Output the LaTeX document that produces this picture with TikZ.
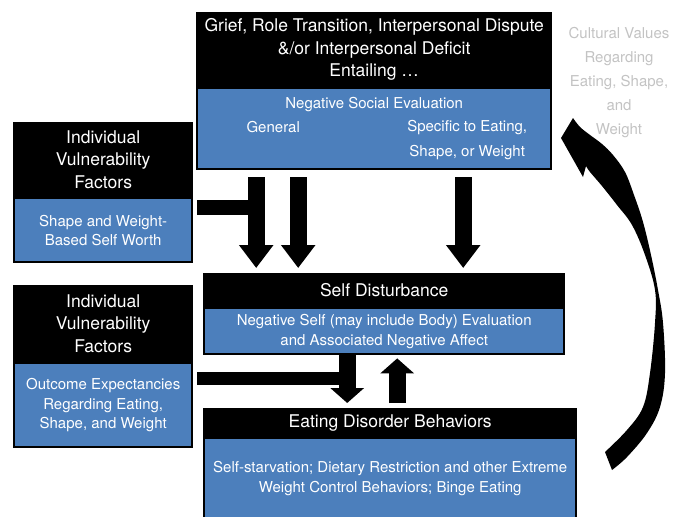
\documentclass[tikz,border=0pt]{standalone}
\usepackage{fontspec}
\setmainfont{TeX Gyre Heros}
\usetikzlibrary{positioning,arrows.meta}
\definecolor{boxblue}{RGB}{76,127,188}
\definecolor{culgray}{RGB}{195,195,195}
\tikzset{
  hdr/.style={fill=black, text=white, inner sep=0pt, align=center,
    font=\fontsize{17.5}{22.5}\selectfont},
  bodybox/.style={fill=boxblue, draw=black, line width=2pt, text=white,
    inner sep=0pt, align=center, font=\fontsize{15}{19.5}\selectfont},
  bodytext/.style={text=white, inner sep=0pt, align=center,
    font=\fontsize{15}{25}\selectfont},
  culture/.style={text=culgray, inner sep=0pt, align=center,
    font=\fontsize{15}{24}\selectfont},
  bigarrow/.style={line width=17pt, -{Triangle[width=33pt,length=23pt]}},
  shortarrow/.style={line width=17pt, -{Triangle[width=33pt,length=15pt]}},
  feedbar/.style={line width=15pt},
}
\begin{document}
\begin{tikzpicture}[x=1pt, y=-1pt]
            \useasboundingbox (0,0) rectangle (684,516);
            % top box
            \node[hdr, anchor=north west, minimum width=356pt, minimum height=75pt] (grief) at (196,12)
                {Grief, Role Transition, Interpersonal Dispute\\\&/or Interpersonal Deficit\\Entailing \dots};
            \node[bodybox, below=0pt of grief, minimum width=354pt, minimum height=81pt] (nse) {};
            \node[bodytext] (nsetitle) at ([yshift=-17pt]nse.north) {Negative Social Evaluation};
            \node[bodytext] (general) at ([xshift=-101pt, yshift=-40pt]nse.north) {General};
            \node[bodytext] (specific) at ([xshift=93pt, yshift=-52.5pt]nse.north) {Specific to Eating,\\Shape, or Weight};
            % left boxes
            \node[hdr, anchor=north west, minimum width=180pt, minimum height=75pt] (vul1) at (13,122)
                {Individual\\Vulnerability\\Factors};
            \node[bodybox, below=0pt of vul1, minimum width=178pt, minimum height=64pt] (sww)
                {Shape and Weight-\\Based Self Worth};
            \node[hdr, anchor=north west, minimum width=180pt, minimum height=77pt] (vul2) at (13,285)
                {Individual\\Vulnerability\\Factors};
            \node[bodybox, below=0pt of vul2, minimum width=178pt, minimum height=84pt] (oex)
                {Outcome Expectancies\\Regarding Eating,\\Shape, and Weight};
            % self disturbance
            \node[hdr, anchor=north west, minimum width=362pt, minimum height=34pt] (selfd) at (203,273)
                {Self Disturbance};
            \node[bodybox, below=0pt of selfd, minimum width=360pt, minimum height=46pt] (nsa)
                {Negative Self (may include Body) Evaluation\\and Associated Negative Affect};
            % eating disorder behaviors
            \node[hdr, anchor=north west, minimum width=374pt, minimum height=29pt] (edb) at (203,408)
                {Eating Disorder Behaviors};
            \node[bodybox, below=0pt of edb, minimum width=372pt, minimum height=80pt] (edbody)
                {Self-starvation; Dietary Restriction and other Extreme\\Weight Control Behaviors; Binge Eating};
            % cultural values
            \node[culture] (cult) at (619,83) {Cultural Values\\Regarding\\Eating, Shape,\\and\\Weight};
            % arrows into self disturbance
            \coordinate (g1) at ([xshift=-118pt]nse.south);
            \coordinate (g2) at ([xshift=-76pt]nse.south);
            \coordinate (g3) at ([xshift=89pt]nse.south);
            \foreach \c in {g1, g2, g3}
                \draw[bigarrow, shorten <=7pt, shorten >=5pt] (\c) -- (\c |- selfd.north);
            \coordinate (b1) at ([xshift=4pt, yshift=23pt]sww.east);
            \draw[feedbar] (b1) -- (b1 -| g1);
            % arrows between self disturbance and behaviors
            \coordinate (d1) at ([xshift=-37pt]nsa.south);
            \draw[shortarrow, shorten >=5pt] (d1) -- (d1 |- edb.north);
            \coordinate (u1) at ([xshift=7pt]edb.north);
            \draw[shortarrow, shorten <=5pt, shorten >=3pt] (u1) -- (u1 |- nsa.south);
            \coordinate (b2) at ([xshift=4pt, yshift=27pt]oex.east);
            \draw[feedbar, line width=13pt] (b2) -- (b2 -| d1);
            % curved feedback arrow
            \fill (561,138) -- plot[smooth, tension=0.6] coordinates {(573,118) (580,127) (590,135) (602,144)
                (613,155) (625,172) (634,195) (643,222) (651,255) (658,290) (663,323) (665,373) (660,407)
                (647,433) (627,457) (612,470)}
                -- plot[smooth, tension=0.6] coordinates {(605,452) (627,430) (643,407) (650,373) (655,323)
                (655,290) (645,255) (632,225) (617,205) (602,186) (590,172) (586,166)}
                -- (583,177) -- cycle;
\end{tikzpicture}
\end{document}
